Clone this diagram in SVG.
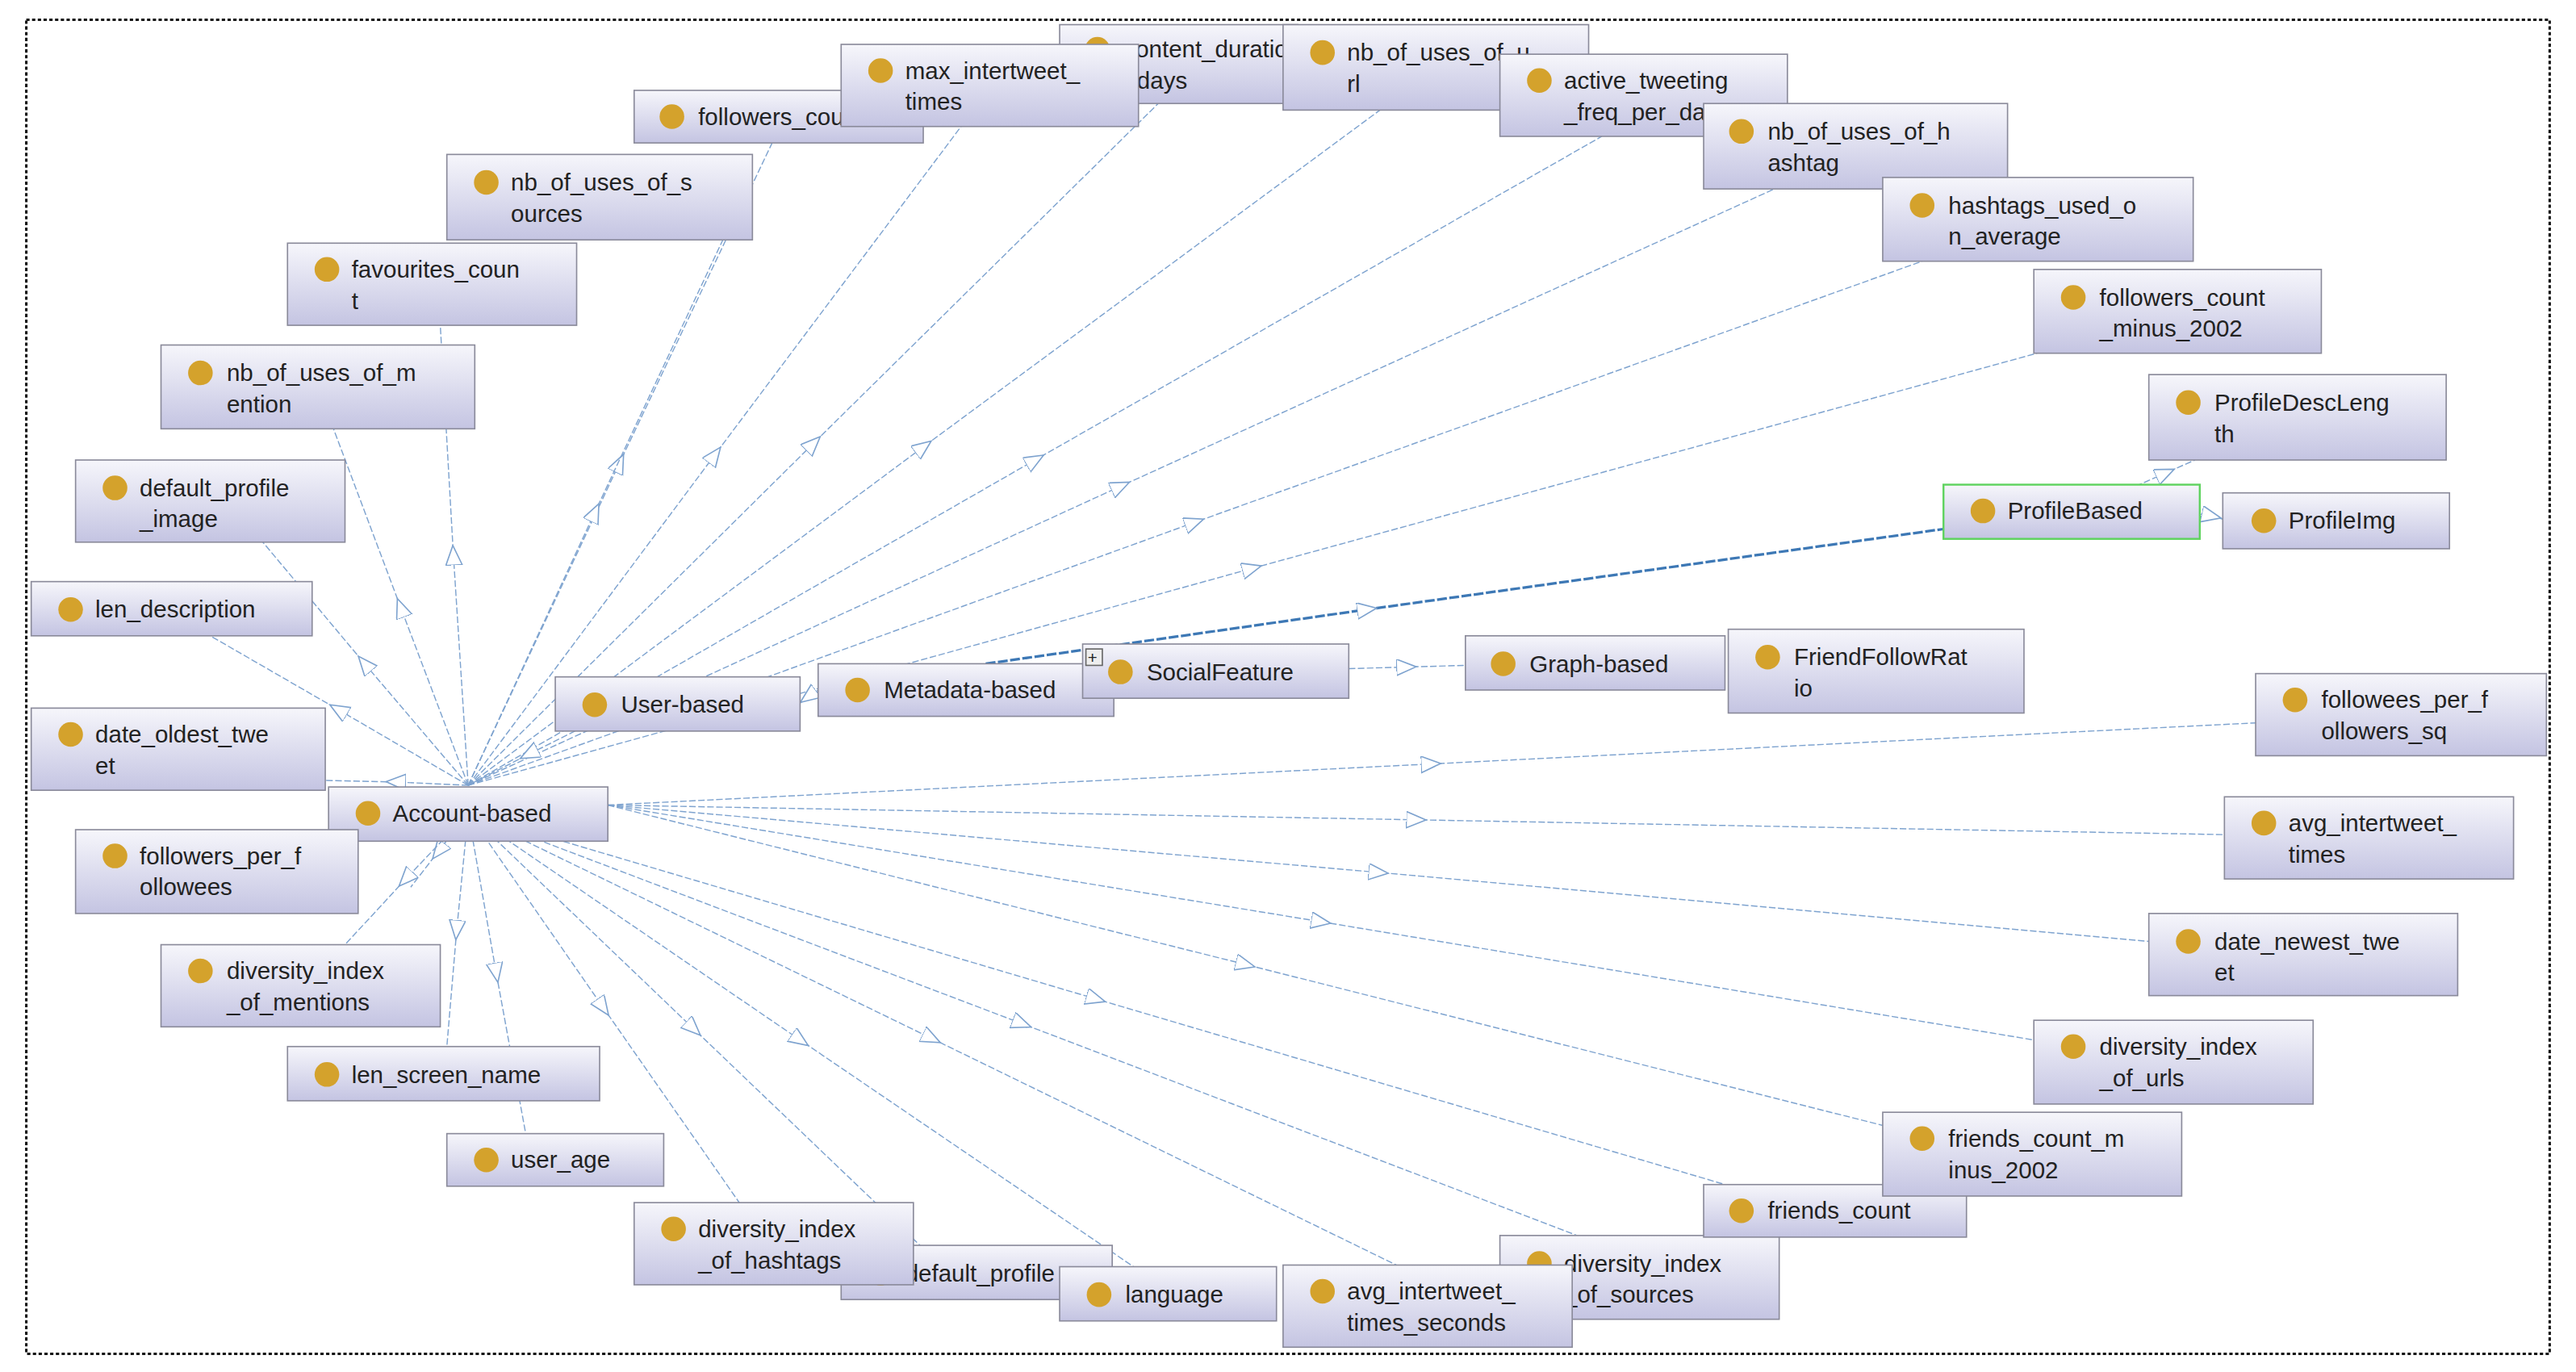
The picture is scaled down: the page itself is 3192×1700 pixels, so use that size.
<svg xmlns="http://www.w3.org/2000/svg" width="3192" height="1700" viewBox="0 0 3192 1700">
<style>
.n rect{fill:url(#g);stroke:#8a8a9a;stroke-width:0.8}
.n circle{fill:#d4a22c}
.n text{font-family:"Liberation Sans",Arial,sans-serif;font-size:14.5px;fill:#222}
.e{fill:none;stroke:#7ea3cf;stroke-width:0.7;stroke-dasharray:4,1.5;marker-mid:url(#t)}
.thick{fill:none;stroke:#3d78b5;stroke-width:1.6;stroke-dasharray:6,1.5;marker-mid:url(#t)}
</style>
<defs>
<linearGradient id="g" x1="0" y1="0" x2="0" y2="1"><stop offset="0" stop-color="#f6f6fb"/><stop offset="1" stop-color="#c4c4e2"/></linearGradient>
<marker id="t" markerUnits="userSpaceOnUse" markerWidth="16" markerHeight="12" refX="6" refY="5" orient="auto"><path d="M0,0 L12,5 L0,10 z" fill="#fff" stroke="#7ea3cf" stroke-width="0.8"/></marker>
</defs>
<rect width="3192" height="1700" fill="#fff"/>
<g transform="scale(2.0357)">
<rect x="16" y="12" width="1536" height="812" fill="none" stroke="#111" stroke-width="1.5" stroke-dasharray="2,1.5"/>
<g id="connectors">
<polyline class="e" points="285,478 377,282 470,87"/>
<polyline class="e" points="285,478 435,277 585,77"/>
<polyline class="e" points="285,478 495,270 705,63"/>
<polyline class="e" points="285,478 562,272 840,67"/>
<polyline class="e" points="285,478 630,280 975,83"/>
<polyline class="e" points="285,478 682,296 1080,115"/>
<polyline class="e" points="285,478 727,318 1170,159"/>
<polyline class="e" points="285,478 762,346 1240,215"/>
<polyline class="e" points="285,478 362,312 440,146"/>
<polyline class="e" points="285,478 276,338 268,198"/>
<polyline class="e" points="285,478 244,370 203,261"/>
<polyline class="e" points="285,478 222,404 160,330"/>
<polyline class="e" points="285,478 206,432 128,387"/>
<polyline class="e" points="285,478 241,476 198,475"/>
<polyline class="e" points="285,495 267,518 250,540"/>
<polyline class="e" points="285,495 247,535 210,575"/>
<polyline class="e" points="285,495 278,566 272,637"/>
<polyline class="e" points="285,495 302,592 320,690"/>
<polyline class="e" points="285,495 367,613 450,732"/>
<polyline class="e" points="285,495 422,626 560,758"/>
<polyline class="e" points="285,495 487,633 690,771"/>
<polyline class="e" points="285,495 567,632 850,770"/>
<polyline class="e" points="285,495 622,623 960,752"/>
<polyline class="e" points="285,495 667,608 1050,721"/>
<polyline class="e" points="370,490 871,465 1373,440"/>
<polyline class="e" points="370,490 862,499 1354,508"/>
<polyline class="e" points="370,490 839,531 1308,573"/>
<polyline class="e" points="370,490 804,561 1238,633"/>
<polyline class="e" points="370,490 758,587 1146,685"/>
<polyline class="e" points="360,440 322,459 285,478"/>
<polyline class="e" points="498,420 492,424 487,428"/>
<polyline class="e" points="821,407 856,406 892,405"/>
<polyline class="e" points="1339,313 1346,314 1353,316"/>
<polyline class="e" points="1300,296 1318,288 1336,280"/>
<polyline class="thick" points="600,404 832,371 1183,322"/>
</g>
<g id="followers_co" class="n"><rect x="386" y="55" width="176" height="32"/><circle cx="409" cy="71" r="7.5"/><text x="425" y="76">followers_count</text></g>
<g id="content_duration" class="n"><rect x="645" y="15" width="145" height="48"/><circle cx="668" cy="30" r="7.5"/><text x="684" y="35">content_duration</text><text x="684" y="54">_days</text></g>
<g id="max_intertweet" class="n"><rect x="512" y="27" width="181" height="50"/><circle cx="536" cy="43" r="7.5"/><text x="551" y="48">max_intertweet_</text><text x="551" y="67">times</text></g>
<g id="nb_url" class="n"><rect x="781" y="15" width="186" height="52"/><circle cx="805" cy="32" r="7.5"/><text x="820" y="37">nb_of_uses_of_u</text><text x="820" y="56">rl</text></g>
<g id="active" class="n"><rect x="913" y="33" width="175" height="50"/><circle cx="937" cy="49" r="7.5"/><text x="952" y="54">active_tweeting</text><text x="952" y="73">_freq_per_day</text></g>
<g id="nb_hashtag" class="n"><rect x="1037" y="63" width="185" height="52"/><circle cx="1060" cy="80" r="7.5"/><text x="1076" y="85">nb_of_uses_of_h</text><text x="1076" y="104">ashtag</text></g>
<g id="hashtags_used" class="n"><rect x="1146" y="108" width="189" height="51"/><circle cx="1170" cy="125" r="7.5"/><text x="1186" y="130">hashtags_used_o</text><text x="1186" y="149">n_average</text></g>
<g id="followers_minus" class="n"><rect x="1238" y="164" width="175" height="51"/><circle cx="1262" cy="181" r="7.5"/><text x="1278" y="186">followers_count</text><text x="1278" y="205">_minus_2002</text></g>
<g id="ProfileDescLength" class="n"><rect x="1308" y="228" width="181" height="52"/><circle cx="1332" cy="245" r="7.5"/><text x="1348" y="250">ProfileDescLeng</text><text x="1348" y="269">th</text></g>
<g id="ProfileBased" class="n"><rect x="1183" y="295" width="156" height="33" style="stroke:#5fd35f;stroke-width:1.2"/><circle cx="1207" cy="311" r="7.5"/><text x="1222" y="316">ProfileBased</text></g>
<g id="ProfileImg" class="n"><rect x="1353" y="300" width="138" height="34"/><circle cx="1378" cy="317" r="7.5"/><text x="1393" y="322">ProfileImg</text></g>
<g id="nb_sources" class="n"><rect x="272" y="94" width="186" height="52"/><circle cx="296" cy="111" r="7.5"/><text x="311" y="116">nb_of_uses_of_s</text><text x="311" y="135">ources</text></g>
<g id="favourites" class="n"><rect x="175" y="148" width="176" height="50"/><circle cx="199" cy="164" r="7.5"/><text x="214" y="169">favourites_coun</text><text x="214" y="188">t</text></g>
<g id="nb_mention" class="n"><rect x="98" y="210" width="191" height="51"/><circle cx="122" cy="227" r="7.5"/><text x="138" y="232">nb_of_uses_of_m</text><text x="138" y="251">ention</text></g>
<g id="default_profile_image" class="n"><rect x="46" y="280" width="164" height="50"/><circle cx="70" cy="297" r="7.5"/><text x="85" y="302">default_profile</text><text x="85" y="321">_image</text></g>
<g id="len_description" class="n"><rect x="19" y="354" width="171" height="33"/><circle cx="43" cy="371" r="7.5"/><text x="58" y="376">len_description</text></g>
<g id="date_oldest" class="n"><rect x="19" y="431" width="179" height="50"/><circle cx="43" cy="447" r="7.5"/><text x="58" y="452">date_oldest_twe</text><text x="58" y="471">et</text></g>
<g id="Account-based" class="n"><rect x="200" y="479" width="170" height="33"/><circle cx="224" cy="495" r="7.5"/><text x="239" y="500">Account-based</text></g>
<g id="followers_per" class="n"><rect x="46" y="505" width="172" height="51"/><circle cx="70" cy="521" r="7.5"/><text x="85" y="526">followers_per_f</text><text x="85" y="545">ollowees</text></g>
<g id="div_mentions" class="n"><rect x="98" y="575" width="170" height="50"/><circle cx="122" cy="591" r="7.5"/><text x="138" y="596">diversity_index</text><text x="138" y="615">_of_mentions</text></g>
<g id="len_screen_name" class="n"><rect x="175" y="637" width="190" height="33"/><circle cx="199" cy="654" r="7.5"/><text x="214" y="659">len_screen_name</text></g>
<g id="user_age" class="n"><rect x="272" y="690" width="132" height="32"/><circle cx="296" cy="706" r="7.5"/><text x="311" y="711">user_age</text></g>
<g id="default_profile" class="n"><rect x="512" y="758" width="165" height="33"/><circle cx="536" cy="775" r="7.5"/><text x="551" y="780">default_profile</text></g>
<g id="div_hashtags" class="n"><rect x="386" y="732" width="170" height="50"/><circle cx="410" cy="748" r="7.5"/><text x="425" y="753">diversity_index</text><text x="425" y="772">_of_hashtags</text></g>
<g id="language" class="n"><rect x="645" y="771" width="132" height="33"/><circle cx="669" cy="788" r="7.5"/><text x="685" y="793">language</text></g>
<g id="div_sources" class="n"><rect x="913" y="752" width="170" height="51"/><circle cx="937" cy="769" r="7.5"/><text x="952" y="774">diversity_index</text><text x="952" y="793">_of_sources</text></g>
<g id="avg_sec" class="n"><rect x="781" y="770" width="176" height="50"/><circle cx="805" cy="786" r="7.5"/><text x="820" y="791">avg_intertweet_</text><text x="820" y="810">times_seconds</text></g>
<g id="friends_count" class="n"><rect x="1037" y="721" width="160" height="32"/><circle cx="1060" cy="737" r="7.5"/><text x="1076" y="742">friends_count</text></g>
<g id="friends_minus" class="n"><rect x="1146" y="677" width="182" height="51"/><circle cx="1170" cy="693" r="7.5"/><text x="1186" y="698">friends_count_m</text><text x="1186" y="717">inus_2002</text></g>
<g id="div_urls" class="n"><rect x="1238" y="621" width="170" height="51"/><circle cx="1262" cy="637" r="7.5"/><text x="1278" y="642">diversity_index</text><text x="1278" y="661">_of_urls</text></g>
<g id="date_newest" class="n"><rect x="1308" y="556" width="188" height="50"/><circle cx="1332" cy="573" r="7.5"/><text x="1348" y="578">date_newest_twe</text><text x="1348" y="597">et</text></g>
<g id="avg_intertweet" class="n"><rect x="1354" y="485" width="176" height="50"/><circle cx="1378" cy="501" r="7.5"/><text x="1393" y="506">avg_intertweet_</text><text x="1393" y="525">times</text></g>
<g id="followees_per" class="n"><rect x="1373" y="410" width="177" height="50"/><circle cx="1397" cy="426" r="7.5"/><text x="1413" y="431">followees_per_f</text><text x="1413" y="450">ollowers_sq</text></g>
<g id="User-based" class="n"><rect x="338" y="412" width="149" height="33"/><circle cx="362" cy="429" r="7.5"/><text x="378" y="434">User-based</text></g>
<g id="Metadata-based" class="n"><rect x="498" y="404" width="180" height="32"/><circle cx="522" cy="420" r="7.5"/><text x="538" y="425">Metadata-based</text></g>
<g id="SocialFeature" class="n"><rect x="659" y="392" width="162" height="33"/><circle cx="682" cy="409" r="7.5"/><text x="698" y="414">SocialFeature</text><rect x="661" y="395" width="10" height="10" style="fill:#eee;stroke:#666"/><text x="662" y="404" style="font-size:10px">+</text></g>
<g id="Graph-based" class="n"><rect x="892" y="387" width="158" height="33"/><circle cx="915" cy="404" r="7.5"/><text x="931" y="409">Graph-based</text></g>
<g id="FriendFollowRatio" class="n"><rect x="1052" y="383" width="180" height="51"/><circle cx="1076" cy="400" r="7.5"/><text x="1092" y="405">FriendFollowRat</text><text x="1092" y="424">io</text></g>
</g>
</svg>
